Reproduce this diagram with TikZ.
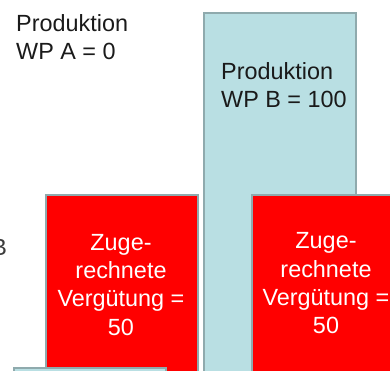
\documentclass[tikz,border=0pt]{standalone}
\usepackage{fontspec}
\setmainfont{Liberation Sans}
\definecolor{boxblue}{HTML}{B9DFE3}
\definecolor{boxedge}{HTML}{8FAAAD}
\definecolor{boxred}{HTML}{FF0000}
\definecolor{labelgray}{HTML}{1A1A1A}
\begin{document}
\begin{tikzpicture}[x=1pt,y=-1pt,
  bar/.style={draw=boxedge,line width=2pt,anchor=north west,inner sep=0pt},
  bluebar/.style={bar,fill=boxblue},
  redbar/.style={bar,fill=boxred},
  lbl/.style={inner sep=0pt,font=\fontsize{23.4}{28.3}\selectfont},
]
\useasboundingbox (0,0) rectangle (390,370);
\clip (0,0) rectangle (390,370);
\node[bluebar,minimum width=152pt,minimum height=380pt] (prodB) at (203,12) {};
\node[redbar,minimum width=152pt,minimum height=190pt] (vergL) at (45,194) {};
\node[redbar,minimum width=150pt,minimum height=190pt] (vergR) at (251,194) {};
\node[bluebar,minimum width=152pt,minimum height=40pt] (bottom) at (13,367) {};
\node[lbl,anchor=north west,align=left,text=labelgray] (txtA) at (16,14) {Produktion\\WP A = 0};
\node[lbl,anchor=north west,align=left,text=labelgray] (txtB) at (221,62.5) {Produktion\\WP B = 100};
\node[lbl,anchor=north,align=center,text=white] (txtL) at (121,234) {Zuge-\\rechnete\\Vergütung =\\50};
\node[lbl,anchor=north,align=center,text=white] (txtR) at (326,232.5) {Zuge-\\rechnete\\Vergütung =\\50};
\node[lbl,anchor=base east,text=labelgray!85!white] (partB) at (7.3,255) {B};
\end{tikzpicture}
\end{document}
